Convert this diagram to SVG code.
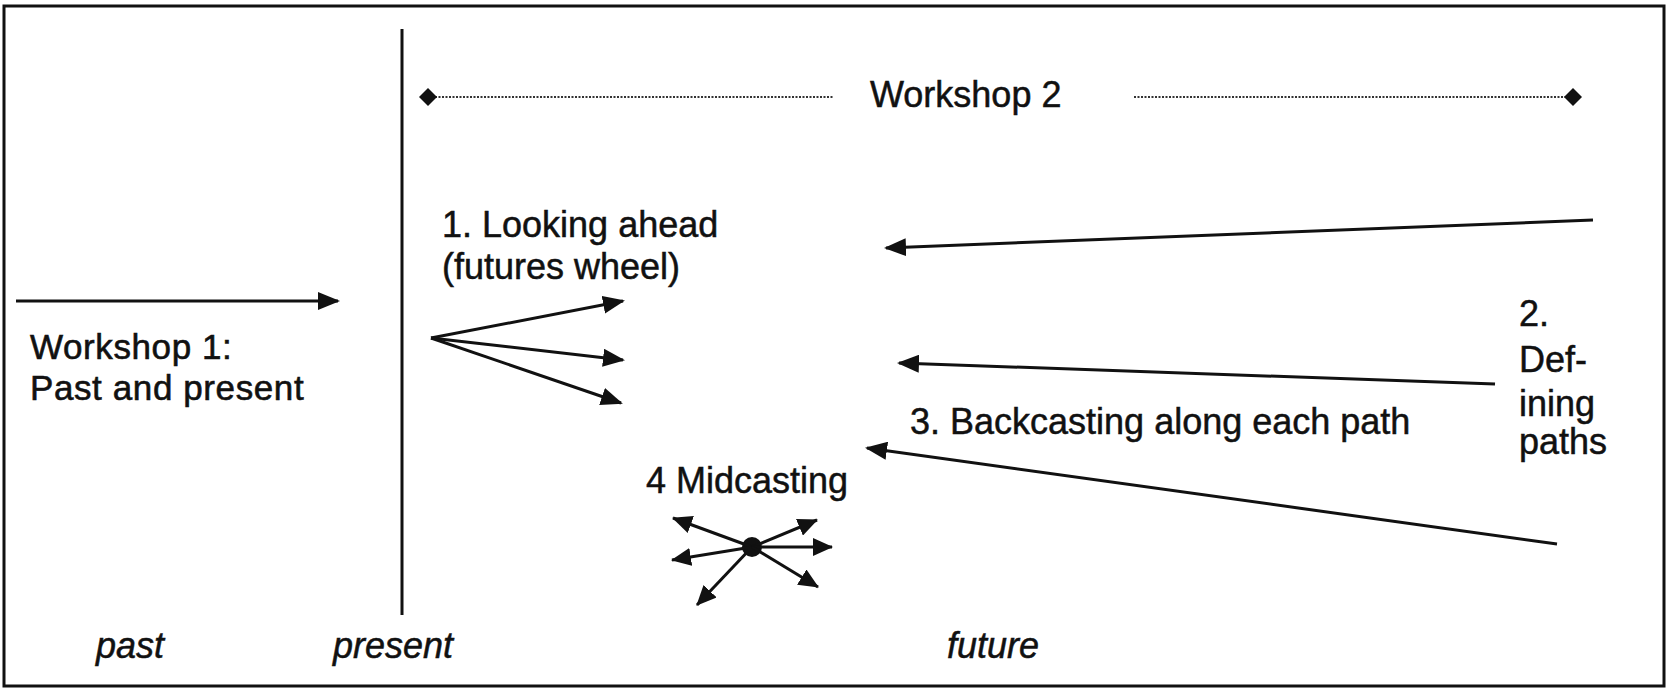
<svg xmlns="http://www.w3.org/2000/svg" width="1669" height="693" viewBox="0 0 1669 693">
<style>
  .t { font-family: "Liberation Sans", Arial, sans-serif; font-size: 36px; fill: #111; stroke: #111; stroke-width: 0.5; }
  .ti { font-family: "Liberation Sans", Arial, sans-serif; font-size: 36px; font-style: italic; fill: #111; stroke: #111; stroke-width: 0.5; }
  .w1 { font-family: "Liberation Sans", Arial, sans-serif; font-size: 35px; letter-spacing: 0.6px; fill: #111; stroke: #111; stroke-width: 0.6; }
  .ln { stroke: #111; stroke-width: 3; fill: none; }
  .ar { stroke: #111; stroke-width: 3; fill: none; marker-end: url(#ah); }
  .ars { stroke: #111; stroke-width: 3; fill: none; marker-end: url(#ahs); }
  .dot { stroke: #333; stroke-width: 2; stroke-dasharray: 2 1.5; fill: none; }
</style>
<defs>
  <marker id="ah" markerUnits="userSpaceOnUse" markerWidth="22" markerHeight="18" refX="20" refY="9" orient="auto">
    <path d="M0,0 L22,9 L0,18 z" fill="#111"/>
  </marker>
  <marker id="ahs" markerUnits="userSpaceOnUse" markerWidth="20" markerHeight="18" refX="19" refY="9" orient="auto">
    <path d="M0,0 L20,9 L0,18 z" fill="#111"/>
  </marker>
  <marker id="dm" markerUnits="userSpaceOnUse" markerWidth="18" markerHeight="18" refX="9" refY="9" orient="auto">
    <path d="M0,9 L9,0 L18,9 L9,18 z" fill="#111"/>
  </marker>
</defs>
<rect width="1669" height="693" fill="#fff"/>
<rect x="4" y="6" width="1660" height="680" fill="none" stroke="#111" stroke-width="3"/>
<g id="connectors">
  <line class="ln" x1="402" y1="29" x2="402" y2="615"/>
  <line class="dot" x1="428" y1="97" x2="833" y2="97" marker-start="url(#dm)"/>
  <line class="dot" x1="1134" y1="97" x2="1573" y2="97" marker-end="url(#dm)"/>
  <line class="ar" x1="16" y1="301" x2="338" y2="301"/>
  <line class="ar" x1="431" y1="338" x2="623" y2="301"/>
  <line class="ar" x1="431" y1="338" x2="623" y2="360"/>
  <line class="ar" x1="431" y1="338" x2="621" y2="403"/>
  <line class="ar" x1="1593" y1="220" x2="886" y2="248"/>
  <line class="ar" x1="1495" y1="384" x2="899" y2="363"/>
  <line class="ar" x1="1557" y1="544" x2="867" y2="448"/>
  <circle cx="752" cy="547" r="10" fill="#111"/>
  <line class="ars" x1="752" y1="547" x2="673" y2="518"/>
  <line class="ars" x1="752" y1="547" x2="817" y2="520"/>
  <line class="ars" x1="752" y1="547" x2="832" y2="547"/>
  <line class="ars" x1="752" y1="547" x2="672" y2="560"/>
  <line class="ars" x1="752" y1="547" x2="697" y2="605"/>
  <line class="ars" x1="752" y1="547" x2="818" y2="587"/>
</g>
<g id="workshop2"><text class="t" x="870" y="107">Workshop 2</text></g>
<g id="workshop1">
  <text class="w1" x="30" y="359">Workshop 1:</text>
  <text class="w1" x="30" y="400">Past and present</text>
</g>
<g id="looking-ahead">
  <text class="t" x="442" y="237">1. Looking ahead</text>
  <text class="t" x="442" y="279">(futures wheel)</text>
</g>
<g id="defining-paths">
  <text class="t" x="1519" y="326">2.</text>
  <text class="t" x="1519" y="372">Def-</text>
  <text class="t" x="1519" y="416">ining</text>
  <text class="t" x="1519" y="454">paths</text>
</g>
<g id="backcasting"><text class="t" x="910" y="434">3. Backcasting along each path</text></g>
<g id="midcasting"><text class="t" x="646" y="493">4 Midcasting</text></g>
<g id="timeline">
  <text class="ti" x="96" y="658">past</text>
  <text class="ti" x="333" y="658">present</text>
  <text class="ti" x="947" y="658">future</text>
</g>
</svg>
